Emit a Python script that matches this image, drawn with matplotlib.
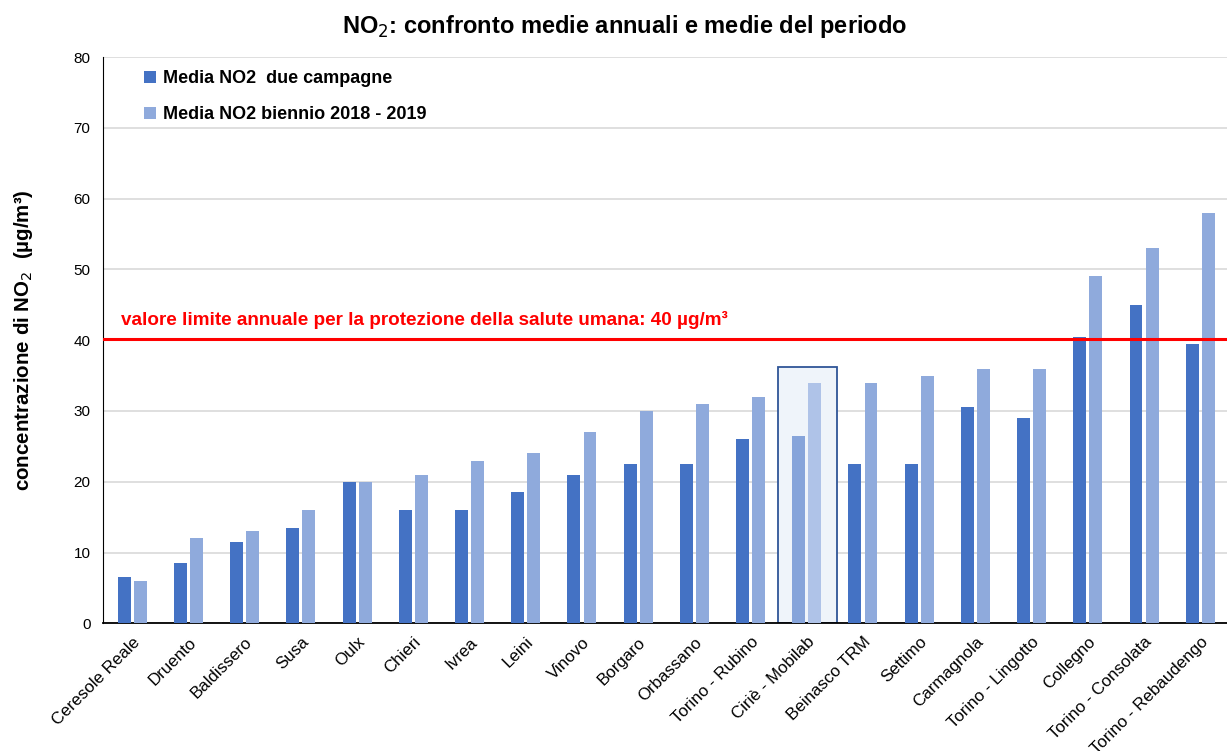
import numpy as np
import matplotlib.pyplot as plt
from matplotlib.patches import Rectangle

plt.rcParams["font.family"] = ["Liberation Sans", "DejaVu Sans"]

stations = ["Ceresole Reale", "Druento", "Baldissero", "Susa", "Oulx", "Chieri",
            "Ivrea", "Leini", "Vinovo", "Borgaro", "Orbassano", "Torino - Rubino",
            "Ciriè - Mobilab", "Beinasco TRM", "Settimo", "Carmagnola",
            "Torino - Lingotto", "Collegno", "Torino - Consolata", "Torino - Rebaudengo"]
media_campagne = [6.5, 8.5, 11.5, 13.5, 20, 16, 16, 18.5, 21, 22.5, 22.5, 26,
                  26.5, 22.5, 22.5, 30.5, 29, 40.5, 45, 39.5]
media_biennio = [6, 12, 13, 16, 20, 21, 23, 24, 27, 30, 31, 32,
                 34, 34, 35, 36, 36, 49, 53, 58]
limite = 40.2
highlight = "Ciriè - Mobilab"

DARK = "#4472C4"
LIGHT = "#8FAADC"

fig = plt.figure(figsize=(12.27, 7.51), dpi=100)
ax = fig.add_axes([0.084, 0.170, 0.918, 0.754])

x = np.arange(len(stations))
w = 0.23
off = 0.143
hi = stations.index(highlight)
c1 = [DARK] * len(x)
c2 = [LIGHT] * len(x)
c1[hi] = "#86A4DA"
c2[hi] = "#AFC3E8"

# highlight box behind the Ciriè bars
ax.add_patch(Rectangle((hi - 0.52, 0), 1.06, 36.2, facecolor="#EFF4FA",
                       edgecolor="#2F5597", linewidth=1.3, zorder=1))

ax.bar(x - off, media_campagne, w, color=c1, zorder=3, label="Media NO2  due campagne")
ax.bar(x + off, media_biennio, w, color=c2, zorder=3, label="Media NO2 biennio 2018 - 2019")

ax.axhline(limite, color="#FF0000", linewidth=2.2, zorder=4)
ax.text(0.016, 0.535, "valore limite annuale per la protezione della salute umana: 40 µg/m³",
        transform=ax.transAxes, color="#FF0000", fontsize=13.6, fontweight="bold",
        va="center")

ax.set_xlim(-0.52, len(x) - 0.48)
ax.set_ylim(0, 80)
ax.set_yticks(range(0, 81, 10))
ax.grid(True, axis="y", color="#D9D9D9", linewidth=1.2, zorder=0)
ax.set_axisbelow(True)
ax.tick_params(axis="y", length=0, labelsize=11, pad=9)
ax.tick_params(axis="x", length=0, labelsize=12.2, pad=8)
ax.set_xticks(x)
ax.set_xticklabels(stations, rotation=45, ha="right", rotation_mode="anchor")
for s in ("top", "right"):
    ax.spines[s].set_visible(False)
ax.spines["left"].set_color("black")
ax.spines["bottom"].set_color("black")
ax.spines["bottom"].set_linewidth(1.3)

ax.set_ylabel("concentrazione di NO$_2$  (µg/m³)", fontsize=14.8, fontweight="bold")
ax.yaxis.set_label_coords(-0.060, 0.5)
fig.text(0.509, 0.965, "NO$_2$: confronto medie annuali e medie del periodo", fontsize=17,
         fontweight="bold", ha="center", va="center")

leg = ax.legend(loc="upper left", bbox_to_anchor=(0.022, 1.005), frameon=False,
                handlelength=0.65, handleheight=0.65, handletextpad=0.4,
                labelspacing=1.05, prop={"size": 13, "weight": "bold"})

fig.savefig("out.png", dpi=100)
